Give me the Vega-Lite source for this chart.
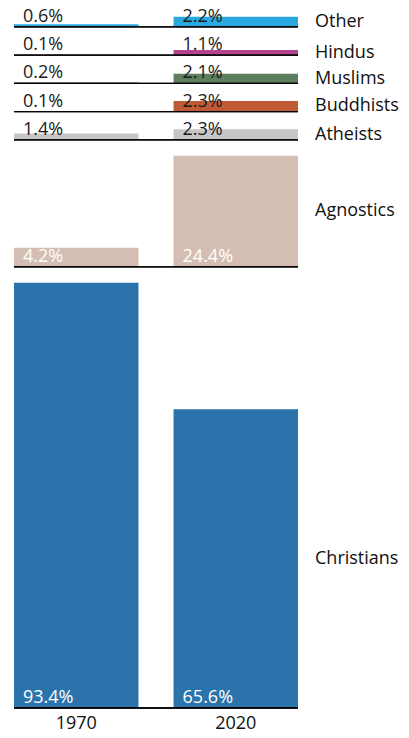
{
  "$schema": "https://vega.github.io/schema/vega-lite/v6.json",
  "width": 284,
  "height": 708,
  "padding": {"left": 13, "top": 0, "right": 0, "bottom": 0},
  "autosize": {"type": "pad"},
  "config": {"view": {"stroke": null}, "font": "Open Sans"},
  "data": {
    "values": [
      {"religion": "Christians", "year": "1970", "share": 93.4},
      {"religion": "Christians", "year": "2020", "share": 65.6},
      {"religion": "Agnostics", "year": "1970", "share": 4.2},
      {"religion": "Agnostics", "year": "2020", "share": 24.4},
      {"religion": "Atheists", "year": "1970", "share": 1.4},
      {"religion": "Atheists", "year": "2020", "share": 2.3},
      {"religion": "Buddhists", "year": "1970", "share": 0.1},
      {"religion": "Buddhists", "year": "2020", "share": 2.3},
      {"religion": "Muslims", "year": "1970", "share": 0.2},
      {"religion": "Muslims", "year": "2020", "share": 2.1},
      {"religion": "Hindus", "year": "1970", "share": 0.1},
      {"religion": "Hindus", "year": "2020", "share": 1.1},
      {"religion": "Other", "year": "1970", "share": 0.6},
      {"religion": "Other", "year": "2020", "share": 2.2}
    ]
  },
  "transform": [
    {"joinaggregate": [{"op": "max", "field": "share", "as": "rowMax"}], "groupby": ["religion"]},
    {"calculate": "indexof(['Christians','Agnostics','Atheists','Buddhists','Muslims','Hindus','Other'], datum.religion)", "as": "order"},
    {"calculate": "max(datum.rowMax + 3.5, 6.2)", "as": "span"},
    {"window": [{"op": "sum", "field": "span", "as": "cum"}], "groupby": ["year"], "sort": [{"field": "order", "order": "ascending"}], "frame": [null, 0]},
    {"calculate": "datum.cum - datum.span", "as": "base"},
    {"calculate": "datum.base + datum.share", "as": "top"},
    {"calculate": "datum.base + datum.share / 2", "as": "mid"},
    {"calculate": "datum.share / 100", "as": "frac"}
  ],
  "layer": [
    {
      "mark": {"type": "bar"},
      "encoding": {
        "x": {
          "field": "year", "type": "ordinal", "title": null,
          "scale": {"paddingInner": 0.22, "paddingOuter": 0},
          "axis": {"domain": false, "ticks": false, "labelAngle": 0, "labelFontSize": 18, "labelColor": "#111", "labelPadding": 6, "labelFont": "Open Sans"}
        },
        "y": {"field": "base", "type": "quantitative", "scale": {"domain": [0, 155.5], "nice": false}, "axis": null},
        "y2": {"field": "top"},
        "color": {
          "field": "religion", "type": "nominal", "legend": null,
          "scale": {
            "domain": ["Christians", "Agnostics", "Atheists", "Buddhists", "Muslims", "Hindus", "Other"],
            "range": ["#2a74ab", "#d4bdb2", "#c6c6c6", "#c05a36", "#5e7d5e", "#b5448f", "#29a9e0"]
          }
        }
      }
    },
    {
      "mark": {"type": "rule", "color": "#000", "strokeWidth": 1.3},
      "encoding": {
        "y": {"field": "base", "type": "quantitative", "scale": {"domain": [0, 155.5], "nice": false}, "axis": null}
      }
    },
    {
      "mark": {"type": "text", "align": "left", "baseline": "alphabetic", "dx": 9, "dy": -5, "fontSize": 18},
      "encoding": {
        "x": {"field": "year", "type": "ordinal", "bandPosition": 0},
        "y": {"field": "base", "type": "quantitative", "scale": {"domain": [0, 155.5], "nice": false}, "axis": null},
        "text": {"field": "frac", "type": "quantitative", "format": ".1%"},
        "color": {"condition": {"test": "datum.share > 3", "value": "#ffffff"}, "value": "#1a1a1a"}
      }
    },
    {
      "transform": [{"filter": "datum.year == '2020'"}],
      "mark": {"type": "text", "align": "left", "baseline": "middle", "dx": 17, "fontSize": 18, "color": "#111"},
      "encoding": {
        "x": {"field": "year", "type": "ordinal", "bandPosition": 1},
        "y": {"field": "mid", "type": "quantitative", "scale": {"domain": [0, 155.5], "nice": false}, "axis": null},
        "text": {"field": "religion", "type": "nominal"}
      }
    }
  ]
}
